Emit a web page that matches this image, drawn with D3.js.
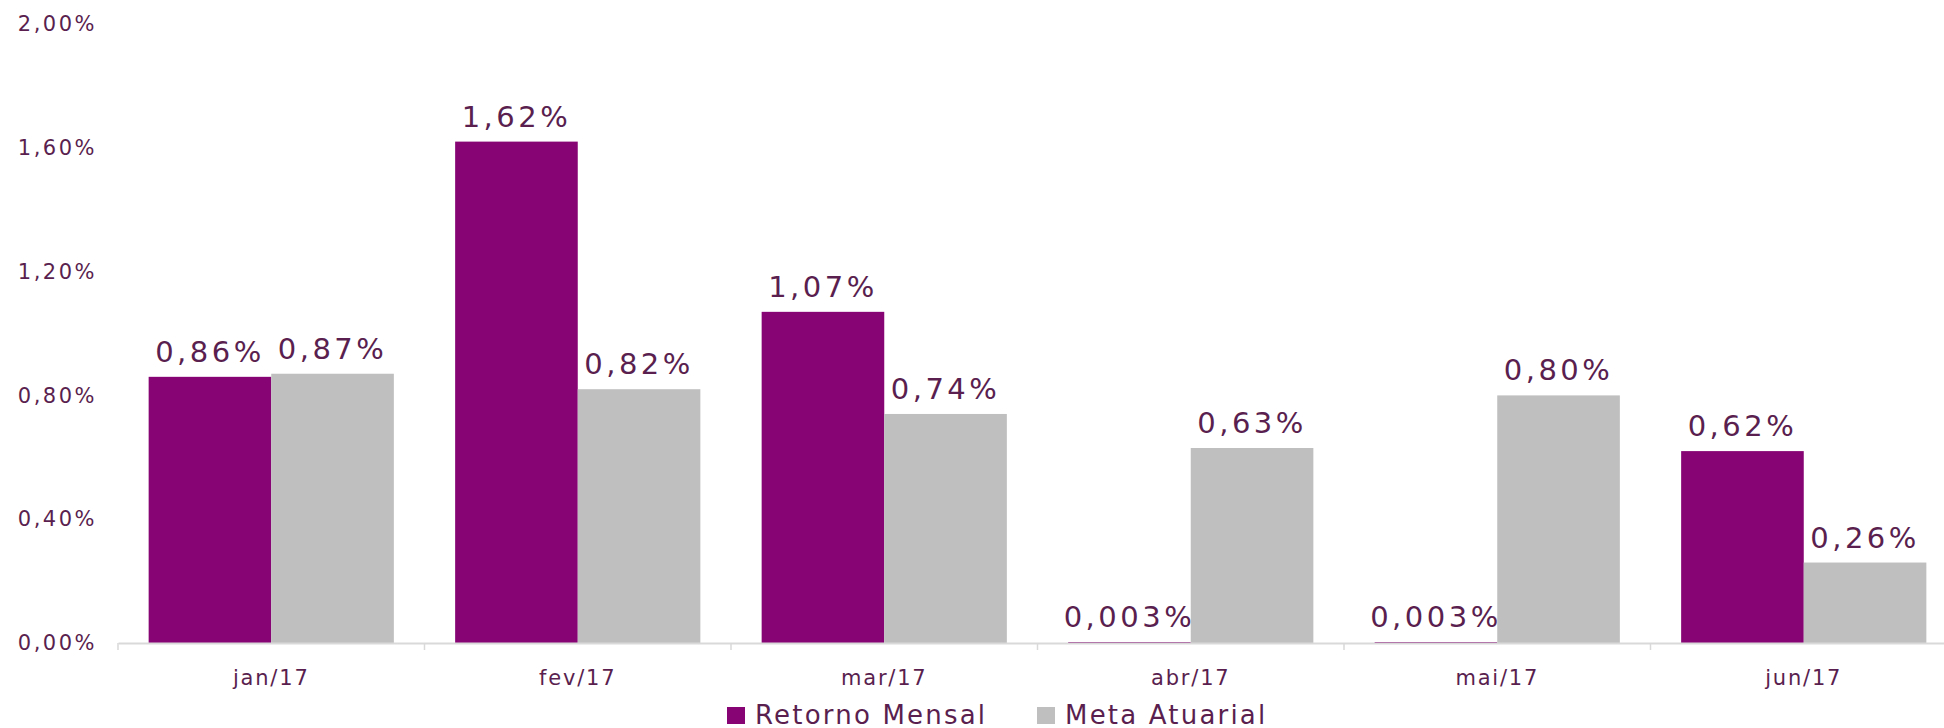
<!DOCTYPE html>
<html>
<head>
<meta charset="utf-8">
<script src="https://cdn.jsdelivr.net/npm/d3@7"></script>
<style>
  body { margin: 0; background: #fff; }
  text { font-family: "DejaVu Sans", sans-serif; fill: #5a1f4f; }
</style>
</head>
<body>
<svg id="chart"></svg>
<script>
// data
var months = ["jan/17", "fev/17", "mar/17", "abr/17", "mai/17", "jun/17"];
var retorno = [0.86, 1.62, 1.07, 0.003, 0.003, 0.62];
var meta = [0.87, 0.82, 0.74, 0.63, 0.80, 0.26];
var seriesNames = ["Retorno Mensal", "Meta Atuarial"];
var yTicks = [0, 0.4, 0.8, 1.2, 1.6, 2.0];

var screen = { width: 1944, height: 728 };
var margins = { top: 24, bottom: 85, left: 118, right: -13 };

var colors = ["#870474", "#bfbfbf"];
var textColor = "#5a1f4f";

var br = d3.formatLocale({ decimal: ",", thousands: ".", grouping: [3], currency: ["R$", ""] });
var fmt2 = br.format(".2f");
var fmt3 = br.format(".3f");
var pct = function(v) { return (v < 0.01 ? fmt3(v) : fmt2(v)) + "%"; };

var data = months.map(function(m, i) {
  return { month: m, values: [retorno[i], meta[i]] };
});

var svg = d3.select("#chart")
  .attr("width", screen.width)
  .attr("height", screen.height);

var x0 = d3.scaleBand()
  .domain(months)
  .range([margins.left, screen.width - margins.right]);

var x1 = d3.scaleBand()
  .domain([0, 1])
  .range([x0.bandwidth() * 0.1, x0.bandwidth() * 0.9]);

var y = d3.scaleLinear()
  .domain([0, 2])
  .range([screen.height - margins.bottom, margins.top]);

// y axis labels
var yAxis = d3.axisLeft(y)
  .tickValues(yTicks)
  .tickSize(0)
  .tickPadding(0)
  .tickFormat(function(d) { return fmt2(d) + "%"; });

svg.append("g")
  .attr("transform", "translate(97,0)")
  .call(yAxis)
  .call(function(g) { g.select(".domain").remove(); })
  .selectAll("text")
    .attr("font-family", "DejaVu Sans")
    .style("font-size", "21px")
    .style("letter-spacing", "2.5px")
    .style("fill", textColor);

// bars
var groups = svg.append("g")
  .selectAll("g")
  .data(data)
  .join("g")
    .attr("transform", function(d) { return "translate(" + x0(d.month) + ",0)"; });

groups.selectAll("rect")
  .data(function(d) { return d.values.map(function(v, k) { return { k: k, v: v }; }); })
  .join("rect")
    .attr("x", function(d) { return x1(d.k); })
    .attr("y", function(d) { return y(d.v); })
    .attr("width", x1.bandwidth())
    .attr("height", function(d) { return y(0) - y(d.v); })
    .attr("fill", function(d) { return colors[d.k]; });

groups.selectAll("text.val")
  .data(function(d) { return d.values.map(function(v, k) { return { k: k, v: v }; }); })
  .join("text")
    .attr("class", "val")
    .attr("x", function(d) { return x1(d.k) + x1.bandwidth() / 2; })
    .attr("y", function(d) { return y(d.v) - 15; })
    .attr("text-anchor", "middle")
    .style("font-size", "29px")
    .style("letter-spacing", "3.5px")
    .text(function(d) { return pct(d.v); });

// x axis
var xAxis = d3.axisBottom(x0).tickSize(0).tickPadding(27);

var xg = svg.append("g")
  .attr("transform", "translate(0," + y(0) + ")")
  .call(xAxis);
xg.select(".domain").attr("stroke", "#d9d9d9").attr("stroke-width", 2);
xg.selectAll("text")
  .attr("font-family", "DejaVu Sans")
  .style("font-size", "21px")
  .style("letter-spacing", "1.8px")
  .style("fill", textColor);

// band separators
svg.append("g")
  .selectAll("line")
  .data(months)
  .join("line")
    .attr("x1", function(d) { return x0(d); })
    .attr("x2", function(d) { return x0(d); })
    .attr("y1", y(0))
    .attr("y2", y(0) + 7)
    .attr("stroke", "#d9d9d9")
    .attr("stroke-width", 1.5);

// legend
var legendX = [727, 1037];
var legend = svg.append("g")
  .selectAll("g")
  .data(seriesNames)
  .join("g")
    .attr("transform", function(d, i) { return "translate(" + legendX[i] + ",707)"; });

legend.append("rect")
  .attr("width", 18)
  .attr("height", 17)
  .attr("fill", function(d, i) { return colors[i]; });

legend.append("text")
  .attr("x", 28)
  .attr("y", 17)
  .style("font-size", "26px")
  .style("letter-spacing", "2.2px")
  .text(function(d) { return d; });
</script>
</body>
</html>
